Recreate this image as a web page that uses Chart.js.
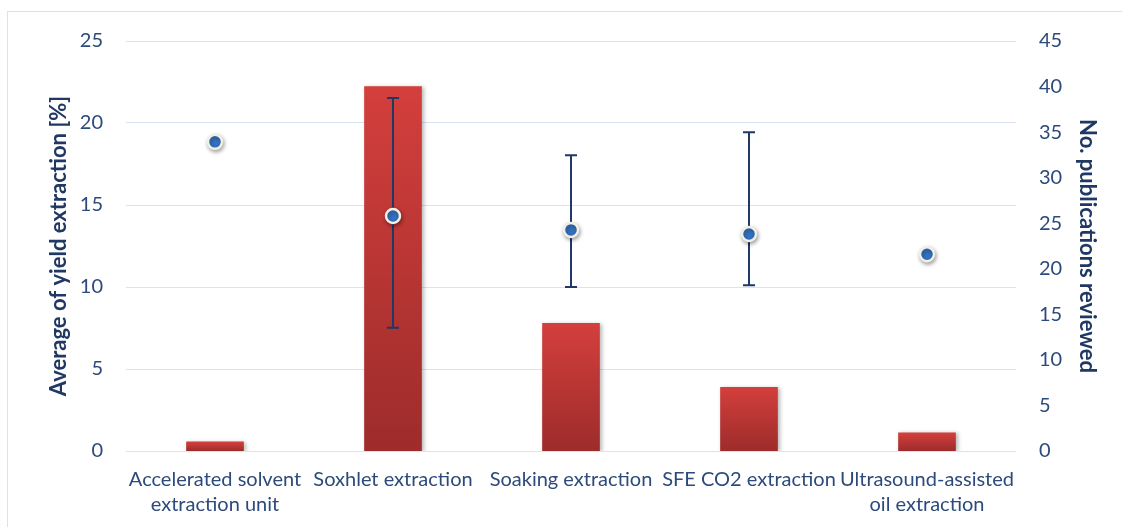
<!DOCTYPE html>
<html>
<head>
<meta charset="utf-8">
<script src="https://cdn.jsdelivr.net/npm/chart.js@4.4.1/dist/chart.umd.min.js"></script>
<style>
  html, body { margin: 0; padding: 0; background: #ffffff; overflow: hidden; }
  #wrap { position: relative; width: 1122px; height: 527px; }
  #frame { position: absolute; left: 7px; top: 11px; width: 1200px; height: 600px; border: 1px solid #d9e2f1; box-sizing: border-box; }
  canvas { position: absolute; left: 0; top: 0; }
</style>
</head>
<body>
<div id="wrap">
  <div id="frame"></div>
  <canvas id="c" width="1122" height="527"></canvas>
</div>
<script>
// ---- data ----
const categories = [
  ['Accelerated solvent', 'extraction unit'],
  'Soxhlet extraction',
  'Soaking extraction',
  'SFE CO2 extraction',
  ['Ultrasound-assisted', 'oil extraction']
];
const publications = [1, 40, 14, 7, 2];            // bars, right axis
const avgYield = [18.85, 14.33, 13.48, 13.23, 12.0]; // dots, left axis
const yieldLow = [null, 7.52, 10.0, 10.1, null];    // error bar lower ends
const yieldHigh = [null, 21.52, 18.03, 19.43, null]; // error bar upper ends
const leftTicks = [0, 5, 10, 15, 20, 25];
const rightTicks = [0, 5, 10, 15, 20, 25, 30, 35, 40, 45];

const tickColor = '#2c4a7c';
const titleColor = '#1f3864';
const gridColor = '#d9e3f2';
const FONT = 'Lato, "Open Sans", "Liberation Sans", sans-serif';

const shadowPlugin = {
  id: 'shadows',
  beforeDatasetDraw(chart, args) {
    const ctx = chart.ctx;
    ctx.save();
    if (args.meta.type === 'bar') {
      ctx.shadowColor = 'rgba(0,0,0,0.28)';
      ctx.shadowBlur = 4;
      ctx.shadowOffsetX = 2;
      ctx.shadowOffsetY = 1;
    } else {
      ctx.shadowColor = 'rgba(0,0,0,0.35)';
      ctx.shadowBlur = 4;
      ctx.shadowOffsetX = 1;
      ctx.shadowOffsetY = 2;
    }
  },
  afterDatasetDraw(chart, args) {
    chart.ctx.restore();
    if (args.meta.type === 'bar') {
      // draw error bars (on the left axis) after the bars and before the dots
      const ctx = chart.ctx;
      const x = chart.scales.x, y = chart.scales.y;
      ctx.save();
      ctx.strokeStyle = '#1f3864';
      ctx.lineWidth = 2;
      const cap = 6;
      for (let i = 0; i < categories.length; i++) {
        if (yieldLow[i] == null || yieldHigh[i] == null) continue;
        const px = Math.round(x.getPixelForValue(i));
        const top = y.getPixelForValue(yieldHigh[i]);
        const bot = y.getPixelForValue(yieldLow[i]);
        ctx.beginPath();
        ctx.moveTo(px, top); ctx.lineTo(px, bot);
        ctx.moveTo(px - cap, top); ctx.lineTo(px + cap, top);
        ctx.moveTo(px - cap, bot); ctx.lineTo(px + cap, bot);
        ctx.stroke();
      }
      ctx.restore();
    }
  }
};

function barGradient(context) {
  const chart = context.chart;
  if (!chart.chartArea || context.type !== 'data') return '#b83533';
  const s = chart.scales.y2;
  const top = s.getPixelForValue(context.raw);
  const base = s.getPixelForValue(0);
  const g = chart.ctx.createLinearGradient(0, top, 0, base);
  g.addColorStop(0, '#d33f3c');
  g.addColorStop(1, '#9d2c2b');
  return g;
}

new Chart(document.getElementById('c'), {
  type: 'bar',
  data: {
    labels: categories,
    datasets: [
      {
        type: 'line',
        label: 'Average of yield extraction [%]',
        data: avgYield,
        yAxisID: 'y',
        showLine: false,
        pointRadius: 7,
        pointBackgroundColor: '#3472c0',
        pointBorderColor: '#f1efe6',
        pointBorderWidth: 2.5,
        order: 1
      },
      {
        type: 'bar',
        label: 'No. publications reviewed',
        data: publications,
        yAxisID: 'y2',
        backgroundColor: barGradient,
        borderWidth: 0,
        barThickness: 57,
        order: 2
      }
    ]
  },
  options: {
    responsive: false,
    animation: false,
    devicePixelRatio: 1,
    layout: { padding: { top: 41, left: 0, right: 0, bottom: 0 } },
    plugins: { legend: { display: false }, tooltip: { enabled: false } },
    scales: {
      x: {
        grid: { display: false, drawTicks: false },
        border: { display: false },
        ticks: { color: tickColor, font: { family: FONT, size: 20, lineHeight: 1.25 }, padding: 16, maxRotation: 0, autoSkip: false },
        afterFit: s => { s.height = 76; }
      },
      y: {
        position: 'left',
        min: 0, max: 25,
        afterBuildTicks: s => { s.ticks = leftTicks.map(v => ({ value: v })); },
        grid: { color: gridColor, lineWidth: 1, drawTicks: false },
        border: { display: false },
        ticks: { color: tickColor, font: { family: FONT, size: 20 }, padding: 23 },
        title: { display: true, text: 'Average of yield extraction [%]', color: titleColor, font: { family: FONT, size: 22, weight: 'bold' }, padding: { top: 46, bottom: 0 } },
        afterFit: s => { s.width = 126; }
      },
      y2: {
        position: 'right',
        min: 0, max: 45,
        afterBuildTicks: s => { s.ticks = rightTicks.map(v => ({ value: v })); },
        grid: { display: false, drawTicks: false },
        border: { display: false },
        ticks: { color: tickColor, font: { family: FONT, size: 20 }, padding: 23 },
        title: { display: true, text: 'No. publications reviewed', color: titleColor, font: { family: FONT, size: 22, weight: 'bold' }, padding: { top: 22, bottom: 0 } },
        afterFit: s => { s.width = 106; }
      }
    }
  },
  plugins: [shadowPlugin]
});
</script>
</body>
</html>
